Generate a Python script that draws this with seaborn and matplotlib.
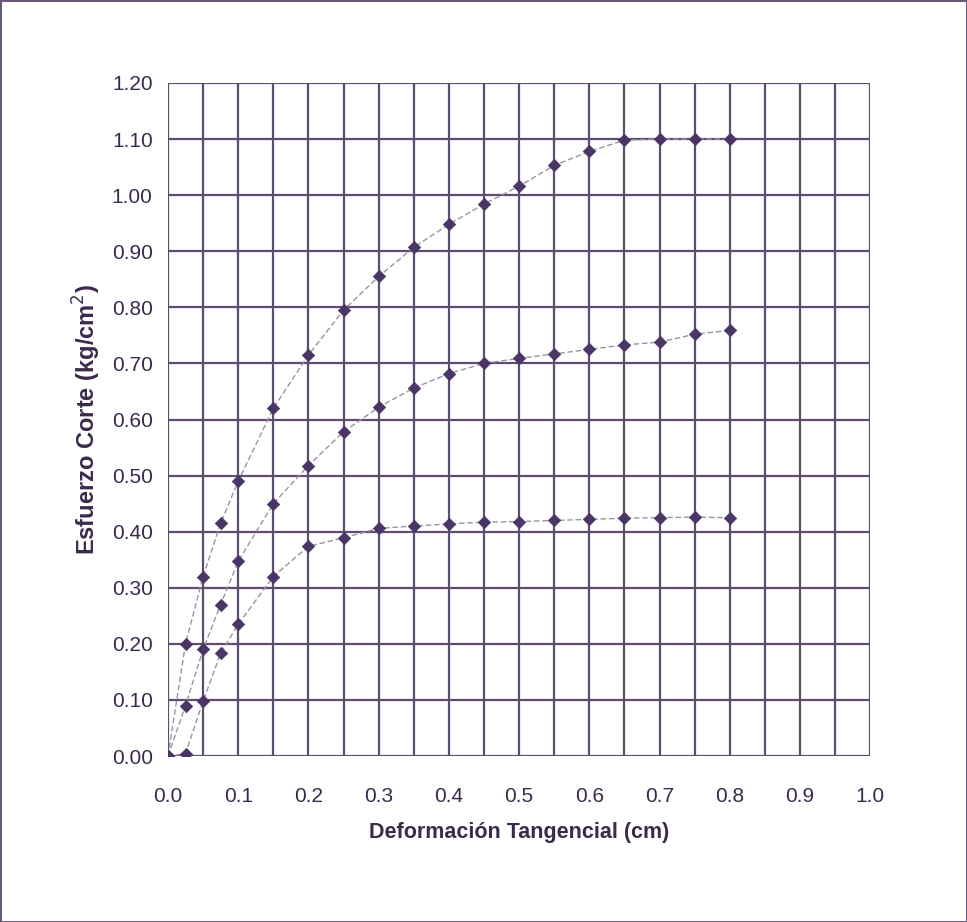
import numpy as np
import pandas as pd
import matplotlib
matplotlib.use("Agg")
import matplotlib.pyplot as plt
import seaborn as sns

# deformacion tangencial (cm)
deformacion = [0.0, 0.025, 0.05, 0.075, 0.10, 0.15, 0.20, 0.25, 0.30, 0.35,
               0.40, 0.45, 0.50, 0.55, 0.60, 0.65, 0.70, 0.75, 0.80]

# esfuerzo de corte (kg/cm2) para cada ensayo
esfuerzo_alto = [0.00, 0.20, 0.32, 0.415, 0.49, 0.62, 0.715, 0.795, 0.855, 0.907,
                 0.948, 0.984, 1.016, 1.053, 1.078, 1.098, 1.10, 1.10, 1.10]
esfuerzo_medio = [0.00, 0.09, 0.19, 0.27, 0.347, 0.45, 0.518, 0.578, 0.622, 0.656,
                  0.682, 0.70, 0.709, 0.717, 0.725, 0.733, 0.738, 0.752, 0.759]
esfuerzo_bajo = [0.00, 0.004, 0.098, 0.183, 0.235, 0.32, 0.374, 0.389, 0.406, 0.41,
                 0.414, 0.417, 0.418, 0.42, 0.422, 0.424, 0.425, 0.426, 0.425]

xticks = [0.0, 0.1, 0.2, 0.3, 0.4, 0.5, 0.6, 0.7, 0.8, 0.9, 1.0]
yticks = [0.0, 0.1, 0.2, 0.3, 0.4, 0.5, 0.6, 0.7, 0.8, 0.9, 1.0, 1.1, 1.2]

df = pd.concat([
    pd.DataFrame({"x": deformacion, "y": esfuerzo_alto, "serie": "alto"}),
    pd.DataFrame({"x": deformacion, "y": esfuerzo_medio, "serie": "medio"}),
    pd.DataFrame({"x": deformacion, "y": esfuerzo_bajo, "serie": "bajo"}),
])

sns.set_theme(style="white")
plt.rcParams['font.family'] = ['Liberation Sans', 'DejaVu Sans']

txt = "#3b2a4c"
grid_c = "#5e4d6e"

fig = plt.figure(figsize=(9.67, 9.22), dpi=100)
ax = fig.add_axes([0.1737, 0.18, 0.7263, 0.73])

# grid: vertical cada 0.05, horizontal cada 0.1
for xv in np.arange(0, 1.0001, 0.05):
    ax.axvline(xv, color=grid_c, lw=1.6, zorder=1)
for yv in yticks:
    ax.axhline(yv, color=grid_c, lw=1.6, zorder=1)

sns.lineplot(data=df, x="x", y="y", hue="serie", units="serie", estimator=None,
             palette=["#9b93a3"] * 3, legend=False, lw=1.0, ax=ax, zorder=2,
             linestyle=(0, (4, 2)))
sns.scatterplot(data=df, x="x", y="y", marker="D", s=40, color="#4a3566",
                edgecolor="#4a3566", ax=ax, zorder=3, legend=False)

ax.set_xlim(0, 1.0)
ax.set_ylim(0, 1.2)
ax.set_xticks(xticks)
ax.set_xticklabels([f"{v:.1f}" for v in xticks])
ax.set_yticks(yticks)
ax.set_yticklabels([f"{v:.2f}" for v in yticks])
ax.tick_params(axis="both", labelsize=15, colors=txt, length=0)
ax.tick_params(axis="x", pad=22)
ax.tick_params(axis="y", pad=11)

ax.set_xlabel("Deformación Tangencial (cm)", fontsize=15.5, fontweight="bold",
              color=txt, labelpad=12)
ax.set_ylabel("Esfuerzo Corte (kg/cm$^2$)", fontsize=17, fontweight="bold",
              color=txt, labelpad=6)

for s in ax.spines.values():
    s.set_visible(False)

fig.patch.set_edgecolor("#6a5a78")
fig.patch.set_linewidth(2)

fig.savefig("out.png", dpi=100, edgecolor=fig.get_edgecolor())
